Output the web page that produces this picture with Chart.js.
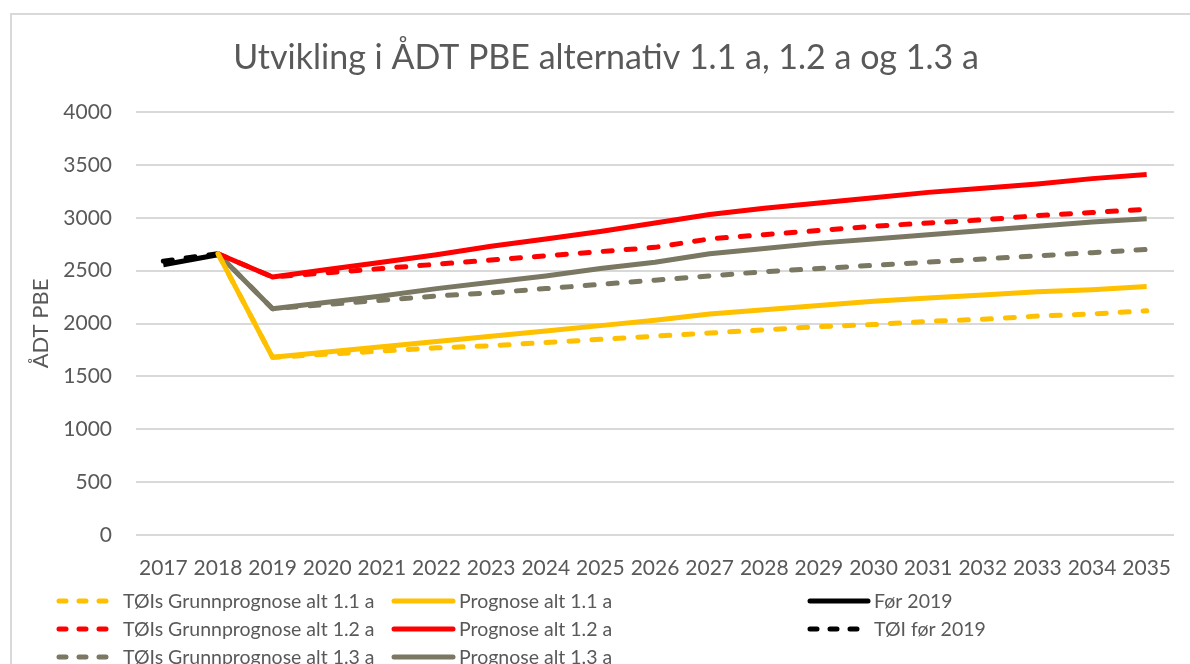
<!DOCTYPE html>
<html>
<head>
<meta charset="utf-8">
<script src="https://cdn.jsdelivr.net/npm/chart.js@4"></script>
<style>
  body { margin: 0; background: #fff; overflow: hidden; }
  #wrap { position: relative; width: 1190px; height: 664px; }
  #frame { position: absolute; left: 10px; top: 13px; width: 1200px; height: 700px; border: 2px solid #d9d9d9; box-sizing: border-box; }
  canvas { position: absolute; left: 0; top: 0; }
</style>
</head>
<body>
<div id="wrap">
  <div id="frame"></div>
  <canvas id="myChart" width="1190" height="664"></canvas>
</div>
<script>
const years = ['2017','2018','2019','2020','2021','2022','2023','2024','2025','2026','2027','2028','2029','2030','2031','2032','2033','2034','2035'];

const toiAlt11 = [null, 2660, 1680, 1710, 1740, 1770, 1790, 1820, 1850, 1880, 1910, 1940, 1970, 1990, 2020, 2040, 2070, 2090, 2120];
const progAlt11 = [null, 2660, 1680, 1730, 1780, 1830, 1880, 1930, 1980, 2030, 2090, 2130, 2170, 2210, 2240, 2270, 2300, 2320, 2350];
const forTall = [2555, 2650, null, null, null, null, null, null, null, null, null, null, null, null, null, null, null, null, null];
const toiAlt12 = [null, 2660, 2440, 2480, 2520, 2560, 2600, 2640, 2680, 2720, 2800, 2840, 2880, 2920, 2950, 2980, 3020, 3050, 3080];
const progAlt12 = [null, 2660, 2440, 2510, 2580, 2650, 2730, 2800, 2870, 2950, 3030, 3090, 3140, 3190, 3240, 3280, 3320, 3370, 3410];
const toiForTall = [2590, 2660, null, null, null, null, null, null, null, null, null, null, null, null, null, null, null, null, null];
const toiAlt13 = [null, 2660, 2140, 2180, 2220, 2260, 2290, 2330, 2370, 2410, 2450, 2490, 2520, 2550, 2580, 2610, 2640, 2670, 2700];
const progAlt13 = [null, 2660, 2140, 2200, 2260, 2330, 2390, 2450, 2520, 2580, 2660, 2710, 2760, 2800, 2840, 2880, 2920, 2960, 2990];

const yellow = '#FFC000';
const red = '#FF0000';
const grey = '#7A7862';
const black = '#000000';
const textColor = '#595959';
const font = 'Lato';

const lineDash = [9, 14];

const makeSet = (label, data, color, dashed) => ({
  label: label,
  data: data,
  borderColor: color,
  backgroundColor: color,
  borderWidth: 5,
  borderDash: dashed ? lineDash : [],
  borderCapStyle: dashed ? 'round' : 'butt',
  borderJoinStyle: 'round',
  pointRadius: 0,
  tension: 0,
  fill: false,
});

// order follows the legend, row by row
const datasets = [
  makeSet('TØIs Grunnprognose alt 1.1 a', toiAlt11, yellow, true),
  makeSet('Prognose alt 1.1 a', progAlt11, yellow, false),
  makeSet('Før 2019', forTall, black, false),
  makeSet('TØIs Grunnprognose alt 1.2 a', toiAlt12, red, true),
  makeSet('Prognose alt 1.2 a', progAlt12, red, false),
  makeSet('TØI før 2019', toiForTall, black, true),
  makeSet('TØIs Grunnprognose alt 1.3 a', toiAlt13, grey, true),
  makeSet('Prognose alt 1.3 a', progAlt13, grey, false),
];

const legendCols = [{line: 57, text: 123}, {line: 392, text: 459}, {line: 808, text: 874}];
const legendRows = [601, 629, 657];

const titleAndLegend = {
  id: 'titleAndLegend',
  afterDraw(chart) {
    const c = chart.ctx;
    c.save();
    c.fillStyle = textColor;
    c.font = '34px ' + font;
    c.textAlign = 'center';
    c.textBaseline = 'middle';
    c.fillText('Utvikling i ÅDT PBE alternativ 1.1 a, 1.2 a og 1.3 a', 606, 58);

    c.font = '19.5px ' + font;
    c.textAlign = 'left';
    chart.data.datasets.forEach((ds, i) => {
      const col = legendCols[i % 3];
      const y = legendRows[Math.floor(i / 3)];
      const dashed = ds.borderDash.length > 0;
      c.strokeStyle = ds.borderColor;
      c.lineWidth = 5;
      c.lineCap = 'round';
      c.beginPath();
      if (dashed) {
        c.setLineDash([7, 13]);
        c.moveTo(col.line + 2, y);
        c.lineTo(col.line + 53, y);
      } else {
        c.setLineDash([]);
        c.moveTo(col.line + 2, y);
        c.lineTo(col.text - 6, y);
      }
      c.stroke();
      c.fillStyle = textColor;
      c.fillText(ds.label, col.text, y + 1);
    });
    c.restore();
  }
};

const ctx = document.getElementById('myChart');
new Chart(ctx, {
  type: 'line',
  data: { labels: years, datasets: datasets },
  options: {
    responsive: false,
    animation: false,
    spanGaps: false,
    layout: { padding: { top: 112, right: 16, bottom: 79, left: 0 } },
    plugins: {
      legend: { display: false },
      title: { display: false },
      tooltip: { enabled: false },
    },
    scales: {
      x: {
        offset: true,
        grid: { display: false },
        border: { display: false },
        ticks: { color: textColor, font: { family: font, size: 21 }, padding: 13, maxRotation: 0, autoSkip: false },
        afterFit: (scale) => { scale.height = 50; },
      },
      y: {
        min: 0,
        max: 4000,
        ticks: {
          stepSize: 500,
          color: textColor,
          font: { family: font, size: 21 },
          padding: 24,
          callback: (value) => String(value),
        },
        grid: { color: '#d9d9d9', lineWidth: 2, drawTicks: false },
        border: { display: false },
        title: { display: true, text: 'ÅDT PBE', color: textColor, font: { family: font, size: 22 }, padding: { top: 28, bottom: 0 } },
        afterFit: (scale) => { scale.width = 136; },
      },
    },
  },
  plugins: [titleAndLegend],
});
</script>
</body>
</html>
